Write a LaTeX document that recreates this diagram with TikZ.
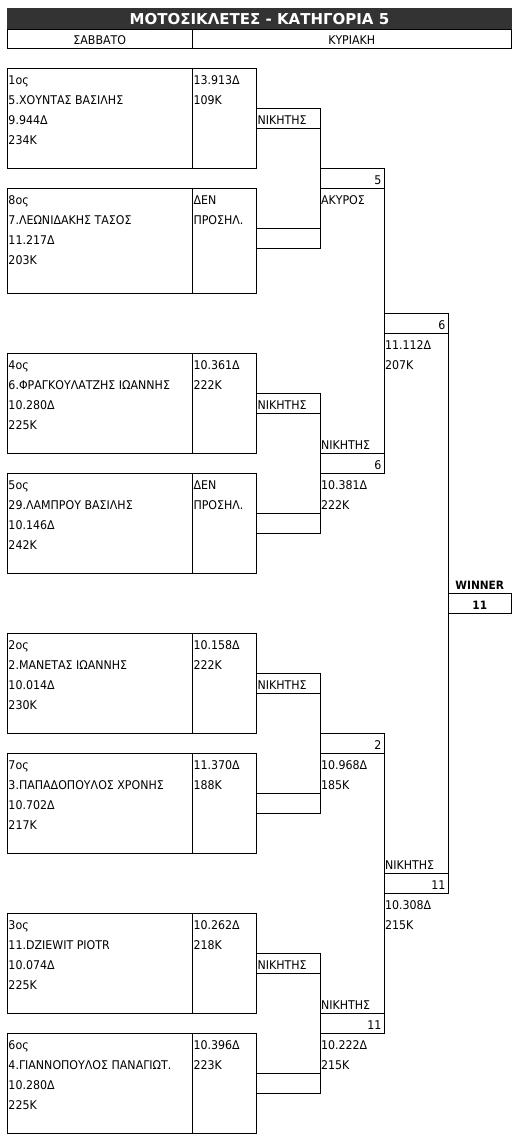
\documentclass[tikz,border=0pt]{standalone}
\usepackage{fontspec}
\setmainfont{DejaVu Sans}[FakeStretch=0.92]
\newfontfamily\titlefont{DejaVu Sans}
\definecolor{titlebg}{RGB}{51,51,51}
\tikzset{
  cell/.style={draw, line width=1pt, inner sep=0pt, outer sep=0pt, anchor=north west, minimum height=20pt, minimum width=64pt},
  txt/.style={inner sep=0pt, outer sep=0pt, font=\fontsize{12}{14}\selectfont, anchor=base west},
  txtr/.style={txt, anchor=base east},
  txtc/.style={txt, anchor=base},
  txtb/.style={txt, anchor=base, font=\fontsize{11.5}{13}\selectfont\bfseries},
  link/.style={line width=1pt},
}
\newcommand\playerbox[9]{%
  \node[cell, minimum width=184.5pt, minimum height=#3pt] (#1n) at (7.5,#2) {};
  \node[cell, minimum width=64pt, minimum height=#3pt] (#1t) at (192,#2) {};
  \node[txt] (#1a) at (8.5,#2+16) {#4};
  \node[txt] (#1b) at (8.5,#2+36) {#5};
  \node[txt] (#1c) at (8.5,#2+56) {#6};
  \node[txt] (#1d) at (8.5,#2+76) {#7};
  \node[txt] (#1e) at (193.5,#2+16) {#8};
  \node[txt] (#1f) at (193.5,#2+36) {#9};
}
\begin{document}
\begin{tikzpicture}[x=1pt,y=-1pt]
\useasboundingbox (0,0) rectangle (521,1141);
% title
\node[fill=titlebg, draw=titlebg, inner sep=0pt, outer sep=0pt, anchor=north west, minimum width=504pt, minimum height=21pt] (title) at (7.5,8) {};
\node[txtc, text=white, font=\titlefont\fontsize{15}{17}\selectfont\bfseries] (titlet) at (259.5,24.5) {ΜΟΤΟΣΙΚΛΕΤΕΣ - ΚΑΤΗΓΟΡΙΑ 5};
% header
\node[cell, minimum width=184.5pt, minimum height=19pt] (sat) at (7.5,29) {};
\node[cell, minimum width=319.5pt, minimum height=19pt] (sun) at (192,29) {};
\node[txtc] (satt) at (99.75,44.5) {ΣΑΒΒΑΤΟ};
\node[txtc] (sunt) at (351.75,44.5) {ΚΥΡΙΑΚΗ};
% players
\playerbox{pa}{68}{100}{1ος}{5.ΧΟΥΝΤΑΣ ΒΑΣΙΛΗΣ}{9.944Δ}{234K}{13.913Δ}{109K}
\playerbox{pb}{188}{105}{8ος}{7.ΛΕΩΝΙΔΑΚΗΣ ΤΑΣΟΣ}{11.217Δ}{203K}{ΔΕΝ}{ΠΡΟΣΗΛ.}
\playerbox{pc}{353}{100}{4ος}{6.ΦΡΑΓΚΟΥΛΑΤΖΗΣ ΙΩΑΝΝΗΣ}{10.280Δ}{225K}{10.361Δ}{222K}
\playerbox{pd}{473}{100}{5ος}{29.ΛΑΜΠΡΟΥ ΒΑΣΙΛΗΣ}{10.146Δ}{242K}{ΔΕΝ}{ΠΡΟΣΗΛ.}
\playerbox{pe}{633}{100}{2ος}{2.ΜΑΝΕΤΑΣ ΙΩΑΝΝΗΣ}{10.014Δ}{230K}{10.158Δ}{222K}
\playerbox{pf}{753}{100}{7ος}{3.ΠΑΠΑΔΟΠΟΥΛΟΣ ΧΡΟΝΗΣ}{10.702Δ}{217K}{11.370Δ}{188K}
\playerbox{pg}{913}{100}{3ος}{11.DZIEWIT PIOTR}{10.074Δ}{225K}{10.262Δ}{218K}
\playerbox{ph}{1033}{100}{6ος}{4.ΓΙΑΝΝΟΠΟΥΛΟΣ ΠΑΝΑΓΙΩΤ.}{10.280Δ}{225K}{10.396Δ}{223K}
% round 1 winners
\node[cell] (w1a) at (256,108) {};
\node[cell] (w1b) at (256,228) {};
\node[cell] (w2a) at (256,393) {};
\node[cell] (w2b) at (256,513) {};
\node[cell] (w3a) at (256,673) {};
\node[cell] (w3b) at (256,793) {};
\node[cell] (w4a) at (256,953) {};
\node[cell] (w4b) at (256,1073) {};
\node[txt] (w1t) at (257.5,124) {ΝΙΚΗΤΗΣ};
\node[txt] (w2t) at (257.5,409) {ΝΙΚΗΤΗΣ};
\node[txt] (w3t) at (257.5,689) {ΝΙΚΗΤΗΣ};
\node[txt] (w4t) at (257.5,969) {ΝΙΚΗΤΗΣ};
\draw[link] (w1a.south east) -- (w1b.north east);
\draw[link] (w2a.south east) -- (w2b.north east);
\draw[link] (w3a.south east) -- (w3b.north east);
\draw[link] (w4a.south east) -- (w4b.north east);
% round 2
\node[cell] (r1) at (320,168) {};
\node[cell] (r2) at (320,453) {};
\node[cell] (r3) at (320,733) {};
\node[cell] (r4) at (320,1013) {};
\node[txtr] (r1n) at (381.5,184) {5};
\node[txt] (r1s) at (321,204) {ΑΚΥΡΟΣ};
\node[txtr] (r2n) at (381.5,469) {6};
\node[txt] (r2w) at (321,449) {ΝΙΚΗΤΗΣ};
\node[txt] (r2a) at (321,489) {10.381Δ};
\node[txt] (r2b) at (321,509) {222K};
\node[txtr] (r3n) at (381.5,749) {2};
\node[txt] (r3a) at (321,769) {10.968Δ};
\node[txt] (r3b) at (321,789) {185K};
\node[txtr] (r4n) at (381.5,1029) {11};
\node[txt] (r4w) at (321,1009) {ΝΙΚΗΤΗΣ};
\node[txt] (r4a) at (321,1049) {10.222Δ};
\node[txt] (r4b) at (321,1069) {215K};
\draw[link] (r1.south east) -- (r2.north east);
\draw[link] (r3.south east) -- (r4.north east);
% round 3
\node[cell] (s1) at (384,313) {};
\node[cell] (s2) at (384,873) {};
\node[txtr] (s1n) at (445.5,329) {6};
\node[txt] (s1a) at (385,349) {11.112Δ};
\node[txt] (s1b) at (385,369) {207K};
\node[txtr] (s2n) at (445.5,889) {11};
\node[txt] (s2w) at (385,869) {ΝΙΚΗΤΗΣ};
\node[txt] (s2a) at (385,909) {10.308Δ};
\node[txt] (s2b) at (385,929) {215K};
\draw[link] (s1.south east) -- (s2.north east);
% final
\node[cell, minimum width=63.5pt] (fin) at (448,593) {};
\node[txtb] (finw) at (479.75,589) {WINNER};
\node[txtb] (finn) at (479.75,609) {11};
\end{tikzpicture}
\end{document}
